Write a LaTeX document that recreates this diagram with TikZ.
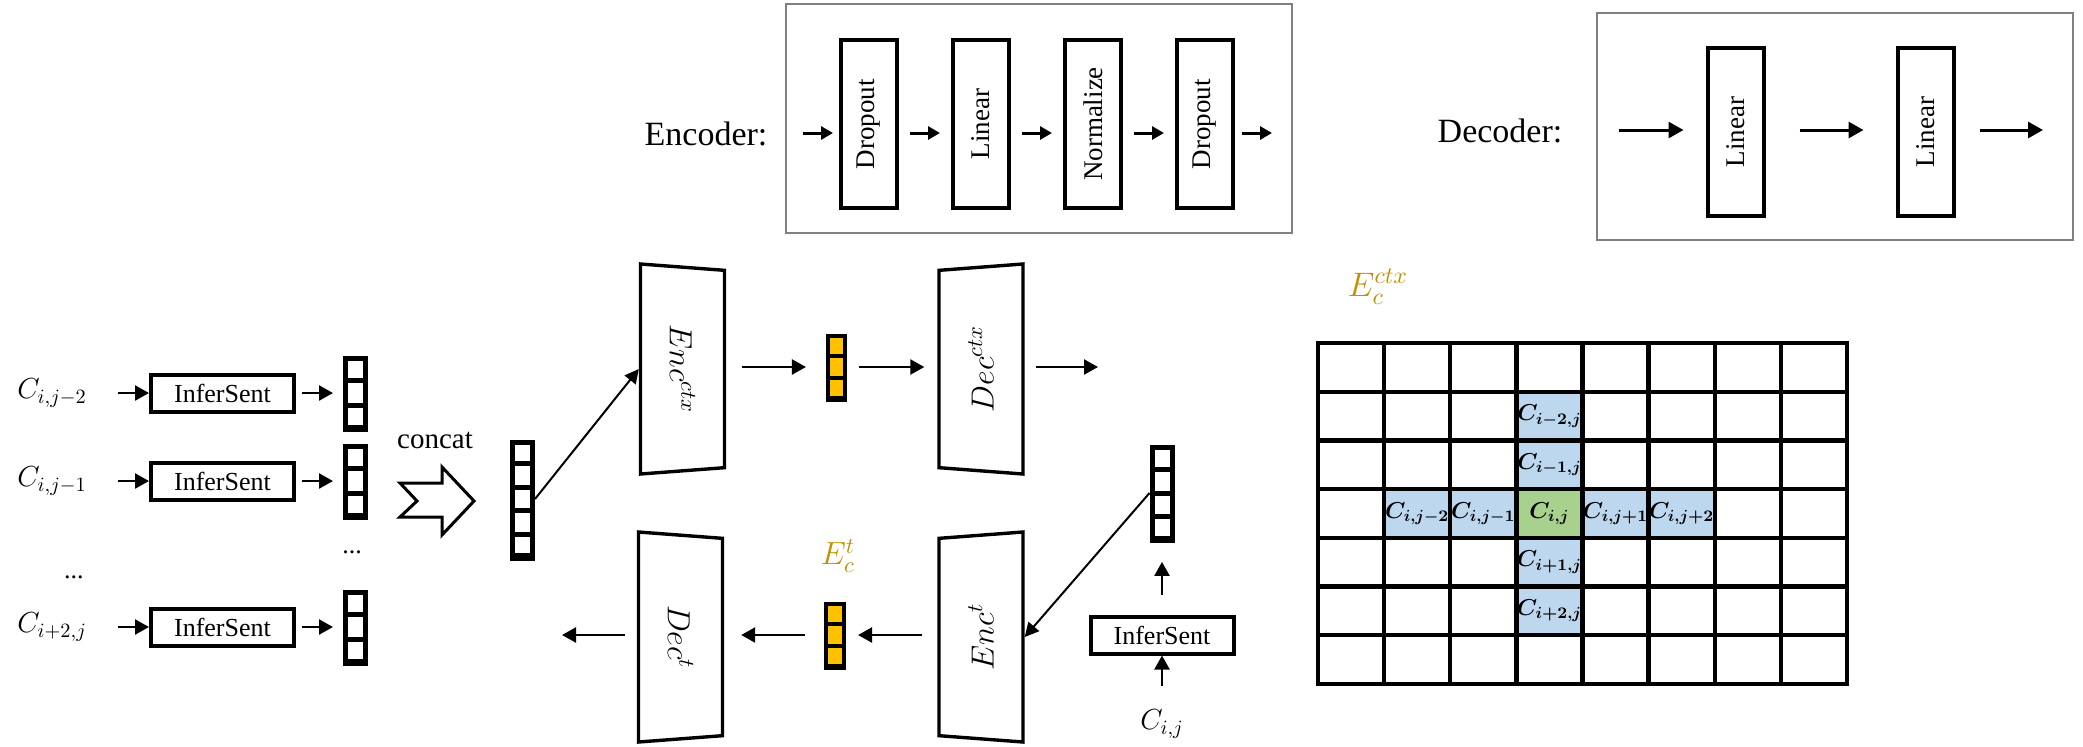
\RequirePackage{fix-cm}
\documentclass[tikz,border=0pt]{standalone}
\usepackage{fontspec}
\setmainfont{Liberation Serif}
\usetikzlibrary{positioning,calc,arrows.meta,shapes.geometric}

\definecolor{vecyellow}{HTML}{FFC000}
\definecolor{labgold}{HTML}{BF9000}
\definecolor{cellblue}{HTML}{BDD7EE}
\definecolor{cellgreen}{HTML}{A9D18E}
\definecolor{framegray}{HTML}{808080}

\newcommand{\cellvec}[5]{%
  \node[#5, minimum height=#3*#4] (#1) at (#2) {};
  \foreach \k in {1,...,#3}
    \draw[#5] ($(#1.north west)!\k/#3!(#1.south west)$) -- ($(#1.north east)!\k/#3!(#1.south east)$);
}

\begin{document}
\begin{tikzpicture}[x=0.5pt, y=-0.5pt,
    arr/.style={line width=1.2pt, -{Triangle[length=7pt, width=7.5pt]}},
    tarr/.style={line width=1.5pt, -{Triangle[length=6pt, width=6.5pt]}},
    darr/.style={line width=1.5pt, -{Triangle[length=7.5pt, width=8pt]}},
    link/.style={line width=1pt, -{Triangle[length=7pt, width=7pt]}},
    lbl/.style={inner sep=0pt, font=\fontsize{14.5}{17}\selectfont},
    txt/.style={inner sep=0pt, font=\fontsize{13}{15}\selectfont},
    headlbl/.style={inner sep=0pt, font=\fontsize{17}{20}\selectfont},
    goldlbl/.style={inner sep=0pt, text=labgold, font=\fontsize{16}{19}\selectfont},
    infbox/.style={draw, line width=2pt, minimum width=71.5pt, minimum height=18.5pt, inner sep=0pt, font=\fontsize{13}{15}\selectfont},
    blk/.style={draw, line width=2pt, minimum width=28pt, minimum height=84pt, inner sep=0pt, font=\fontsize{13.5}{16}\selectfont},
    boxframe/.style={draw=framegray, line width=1pt, inner sep=0pt},
    trap/.style={trapezium, draw, line width=1.7pt, trapezium left angle=76, trapezium right angle=76, trapezium stretches body, minimum width=105pt, minimum height=42pt, inner sep=0pt, font=\fontsize{16}{19}\selectfont},
    vec/.style={draw, line width=2.5pt, fill=white, minimum width=10pt, inner sep=0pt},
    yvec/.style={draw, line width=1.8pt, fill=vecyellow, minimum width=8.75pt, inner sep=0pt},
    cell/.style={minimum width=33.06pt, minimum height=24.36pt, inner sep=0pt, font=\fontsize{11.5}{13}\selectfont\boldmath},
    gridline/.style={line width=2.2pt, line cap=rect}]
    \useasboundingbox (0,0) rectangle (2083,746);

    \node[headlbl] (enclbl) at (706,134) {Encoder:};
    \node[boxframe, minimum width=253pt, minimum height=114.5pt] (encframe) at (1039,118.5) {};
    \node[blk] (b1) at (869,124) {\rotatebox{90}{Dropout}};
    \node[blk, right=26pt of b1] (b2) {\rotatebox{90}{Linear}};
    \node[blk, right=26pt of b2] (b3) {\rotatebox{90}{Normalize}};
    \node[blk, right=26pt of b3] (b4) {\rotatebox{90}{Dropout}};
    \coordinate (ein) at (803,133);
    \coordinate (eout) at (1272,133);
    \draw[tarr, shorten >=3pt] (ein) -- (ein -| b1.west);
    \foreach \a/\b in {b1/b2, b2/b3, b3/b4}
        \draw[tarr, shorten <=5.5pt, shorten >=5.5pt] (\a.east |- ein) -- (\b.west |- ein);
    \draw[tarr, shorten <=3.5pt] (b4.east |- ein) -- (eout);

    \node[headlbl] (declbl) at (1500,131) {Decoder:};
    \node[boxframe, minimum width=238pt, minimum height=113.5pt] (decframe) at (1835,126.5) {};
    \node[blk] (d1) at (1735.5,132) {\rotatebox{90}{Linear}};
    \node[blk, right=65pt of d1] (d2) {\rotatebox{90}{Linear}};
    \coordinate (din) at (1619,130);
    \coordinate (dout) at (2043,130);
    \draw[darr, shorten >=11pt] (din) -- (din -| d1.west);
    \draw[darr, shorten <=17pt, shorten >=16pt] (d1.east |- din) -- (d2.west |- din);
    \draw[darr, shorten <=12pt] (d2.east |- din) -- (dout);

    \foreach \n/\y/\lab in {1/393/{C_{i,j-2}}, 2/481/{C_{i,j-1}}, 3/627/{C_{i+2,j}}} {
        \node[lbl, anchor=west] (c\n) at (17,\y) {$\lab$};
        \node[infbox] (inf\n) at (222.5,\y) {InferSent};
        \draw[arr, shorten <=15.5pt] (c\n) -- (inf\n);
    }
    \cellvec{v1}{355.5,393}{3}{11.35pt}{vec}
    \cellvec{v2}{355.5,481}{3}{11.35pt}{vec}
    \cellvec{v3}{355.5,627}{3}{11.35pt}{vec}
    \foreach \n in {1,2,3}
        \draw[arr, shorten <=3pt, shorten >=5pt] (inf\n) -- (v\n);
    \node[txt] (ldots) at (74,577) {...};
    \node[txt] (vdots) at (352,552) {...};

    \node[txt, font=\fontsize{14.5}{17}\selectfont] (concat) at (435,440) {concat};
    \draw[line width=1.5pt, line join=miter] (400,483) -- (442,483) -- (442,467) -- (474,501)
        -- (442,535) -- (442,517) -- (400,517) -- (417,501) -- cycle;
    \cellvec{cat}{522.5,499}{5}{11.3pt}{vec}

    \node[trap, rotate=-90] (encctx) at (682.5,369) {$Enc^{ctx}$};
    \cellvec{e1}{836.5,367}{3}{10.4pt}{yvec}
    \node[trap, rotate=90] (decctx) at (981,369) {$Dec^{ctx}$};
    \coordinate (out1) at (1098,367);
    \draw[link] (cat.east) -- (encctx.south);
    \draw[arr, shorten <=8pt, shorten >=10pt] (encctx.north |- e1) -- (e1);
    \draw[arr, shorten <=6pt, shorten >=6.5pt] (e1) -- (decctx.north |- e1);
    \draw[arr, shorten <=5.5pt] (decctx.south |- out1) -- (out1);

    \node[trap, rotate=-90] (dect) at (680.5,637) {$Dec^{t}$};
    \cellvec{e2}{835,635}{3}{10.4pt}{yvec}
    \node[trap, rotate=90] (enct) at (981,637) {$Enc^{t}$};
    \node[goldlbl] (et) at (838,556) {$E_c^t$};
    \coordinate (out2) at (562,635);
    \draw[arr, shorten <=7.5pt, shorten >=6.25pt] (enct.north |- e2) -- (e2);
    \draw[arr, shorten <=9.75pt, shorten >=8.5pt] (e2) -- (dect.north |- e2);
    \draw[arr, shorten <=6pt] (dect.south |- out2) -- (out2);

    \cellvec{v4}{1162,493}{4}{11.35pt}{vec}
    \node[infbox] (inf4) at (1162,635) {InferSent};
    \node[lbl] (cij) at (1162,724) {$C_{i,j}$};
    \draw[link] (v4.west) -- (enct.south);
    \draw[arr, shorten <=9.75pt, shorten >=10.5pt] (inf4) -- (v4);
    \draw[arr, shorten <=12pt] (cij) -- (inf4);

    \node[goldlbl, font=\fontsize{17}{20}\selectfont] (ectx) at (1378,287) {$E_c^{ctx}$};
    \begin{scope}[shift={(1318,343)}, x=33.0625pt, y=-24.355pt]
        \foreach \gx/\gy/\lab [count=\n] in {3/1/{C_{i-2,j}}, 3/2/{C_{i-1,j}}, 1/3/{C_{i,j-2}}, 2/3/{C_{i,j-1}},
                4/3/{C_{i,j+1}}, 5/3/{C_{i,j+2}}, 3/4/{C_{i+1,j}}, 3/5/{C_{i+2,j}}}
            \node[cell, fill=cellblue] (g\n) at (\gx+.5,\gy+.5) {$\lab$};
        \node[cell, fill=cellgreen] (gc) at (3.5,3.5) {$C_{i,j}$};
        \foreach \cx in {0,...,8}
            \draw[gridline] (\cx,0) -- (\cx,7);
        \foreach \ry in {0,...,7}
            \draw[gridline] (0,\ry) -- (8,\ry);
    \end{scope}
\end{tikzpicture}
\end{document}
